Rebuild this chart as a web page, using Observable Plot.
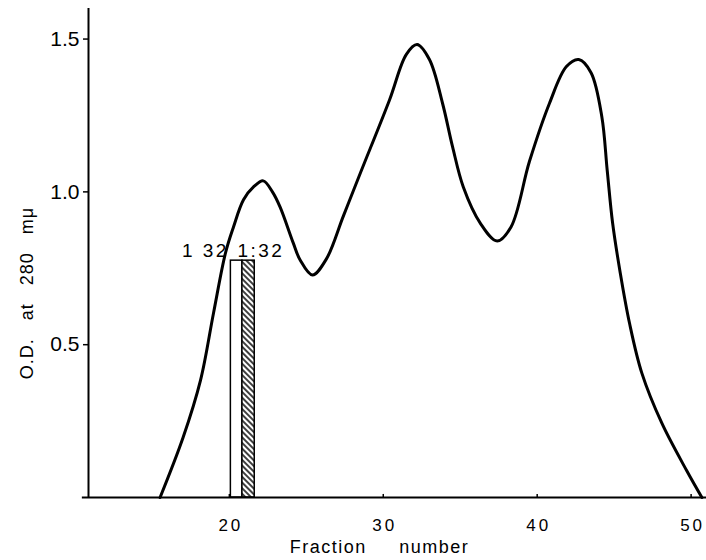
<!DOCTYPE html>
<html>
<head>
<meta charset="utf-8">
<script src="https://cdn.jsdelivr.net/npm/d3@7"></script>
<script src="https://cdn.jsdelivr.net/npm/@observablehq/plot@0.6"></script>
<style>
body { margin: 0; background: #fff; }
svg text { white-space: pre; }
</style>
</head>
<body>
<div id="chart"></div>
<script>
// Elution profile: O.D. at 280 mμ vs fraction number
const fraction = [15.5, 17.0, 18.13, 18.97, 19.75, 20.27, 20.92, 21.57, 22.2, 22.8, 23.3, 24.15, 24.6, 25.4, 26.3, 27.4, 28.5, 30.4, 31.5, 32.2, 33.0, 33.85, 34.5, 35.2, 36.3, 37.4, 38.3, 39.5, 40.8, 41.9, 42.7, 43.5, 44.2, 44.55, 44.9, 45.4, 46.0, 46.8, 48.1, 49.7, 50.7];
const od       = [0.0, 0.197, 0.384, 0.603, 0.80, 0.885, 0.974, 1.016, 1.036, 1.0, 0.95, 0.833, 0.777, 0.728, 0.78, 0.92, 1.06, 1.30, 1.45, 1.482, 1.433, 1.29, 1.148, 1.016, 0.898, 0.839, 0.885, 1.10, 1.29, 1.41, 1.433, 1.39, 1.246, 1.07, 0.898, 0.734, 0.57, 0.407, 0.243, 0.089, 0.0];

// Bars (titre 1:32)
const barStart = [20.1, 20.85];
const barEnd   = [20.85, 21.65];
const barOD    = [0.775, 0.775];
const barLabel = ["1 32", "1:32"];

// Axes
const xTicks = [20, 30, 40, 50];
const yTicks = [0.5, 1.0, 1.5];
const yTickLabels = ["0.5", "1.0", "1.5"];
const xTitle = "Fraction     number";
const yTitle = "O.D.   at   280   mμ";

const curve = fraction.map((f, i) => ({f, od: od[i]}));
const bars = barStart.map((s, i) => ({x1: s, x2: barEnd[i], y: barOD[i], label: barLabel[i]}));

const xMin = 10.85;

const chart = Plot.plot({
  width: 706,
  height: 560,
  marginLeft: 88,
  marginRight: 0,
  marginTop: 8,
  marginBottom: 63,
  style: {fontFamily: "'Liberation Sans', Arial, sans-serif", background: "white", color: "black"},
  x: {domain: [xMin, 51]},
  y: {domain: [0, 1.6]},
  marks: [
    Plot.rectY([bars[0]], {x1: "x1", x2: "x2", y: "y", fill: "white", stroke: "black", strokeWidth: 1.5}),
    Plot.rectY([bars[1]], {x1: "x1", x2: "x2", y: "y", fill: "url(#hatch)", stroke: "black", strokeWidth: 1.5}),
    Plot.line(curve, {x: "f", y: "od", curve: "catmull-rom", stroke: "black", strokeWidth: 3}),
    Plot.ruleX([xMin], {stroke: "black", strokeWidth: 2}),
    Plot.ruleY([0], {x1: 10.45, x2: 51, stroke: "black", strokeWidth: 2}),
    Plot.ruleX(xTicks, {y1: 0, y2: 0.01, stroke: "black", strokeWidth: 1.5}),
    Plot.axisY(yTicks, {tickSize: 5, tickPadding: 4, fontSize: 21, strokeWidth: 1.5, label: null,
      tickFormat: d => yTickLabels[yTicks.indexOf(d)]}),
    Plot.axisX(xTicks, {tickSize: 0, tickPadding: 21, fontSize: 17, label: null, dx: 1.5}),
    Plot.text([bars[0]], {x: "x1", y: "y", text: "label", textAnchor: "end", lineAnchor: "bottom",
      dx: -2, dy: -4, fontSize: 19}),
    Plot.text([bars[1]], {x: "x1", y: "y", text: "label", textAnchor: "start", lineAnchor: "bottom",
      dx: -5, dy: -4, fontSize: 19}),
    Plot.text([yTitle], {text: d => d, frameAnchor: "left", rotate: -90, textAnchor: "middle",
      lineAnchor: "bottom", dx: -56, dy: 40, fontSize: 18}),
    Plot.text([xTitle], {text: d => d, frameAnchor: "bottom", textAnchor: "middle",
      lineAnchor: "bottom", dx: -18, dy: 55, fontSize: 18})
  ]
});

const svg = d3.select(chart);
const defs = svg.insert("defs", ":first-child");
const pat = defs.append("pattern")
  .attr("id", "hatch")
  .attr("patternUnits", "userSpaceOnUse")
  .attr("width", 4)
  .attr("height", 4)
  .attr("patternTransform", "rotate(-45)");
pat.append("rect").attr("width", 4).attr("height", 4).attr("fill", "white");
pat.append("line").attr("x1", 2).attr("y1", 0).attr("x2", 2).attr("y2", 4)
  .attr("stroke", "black").attr("stroke-width", 1.5);

const spacing = new Map([
  ...barLabel.map(t => [t, "2.5px"]),
  ...xTicks.map(t => [String(t), "3px"]),
  [xTitle, "1.5px"],
  [yTitle, "1px"]
]);
svg.selectAll("text").each(function() {
  const s = spacing.get(this.textContent);
  if (s) this.style.letterSpacing = s;
});

document.getElementById("chart").appendChild(chart);
</script>
</body>
</html>
